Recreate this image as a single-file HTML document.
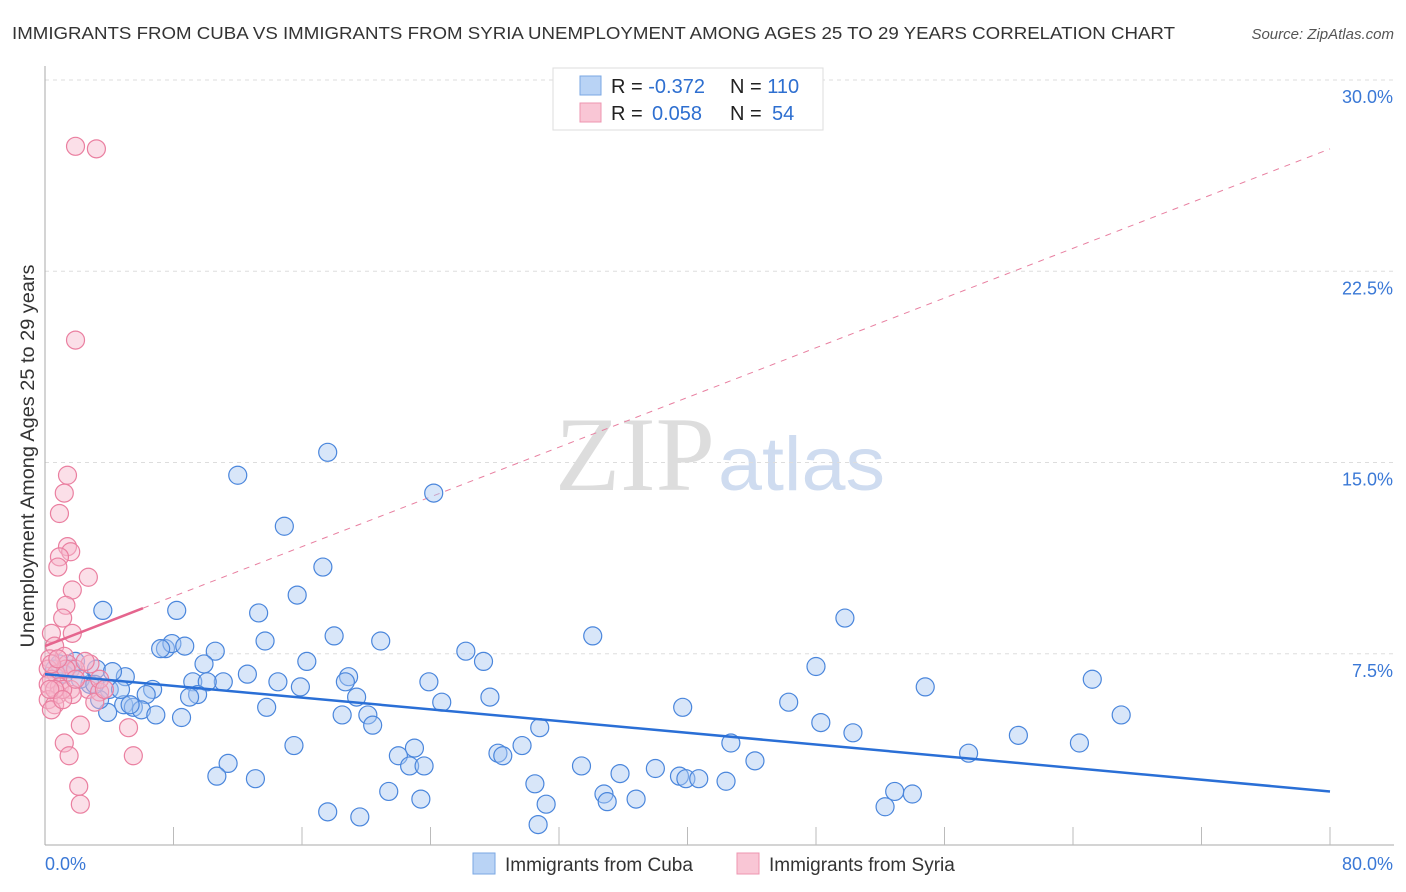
<!DOCTYPE html>
<html><head><meta charset="utf-8"><style>
body{margin:0;background:#fff;font-family:"Liberation Sans",sans-serif;}
svg{display:block}
</style></head><body>
<svg id="chart" width="1406" height="892">
<text x="12" y="39" font-size="17.5" fill="#333" textLength="1163" lengthAdjust="spacingAndGlyphs">IMMIGRANTS FROM CUBA VS IMMIGRANTS FROM SYRIA UNEMPLOYMENT AMONG AGES 25 TO 29 YEARS CORRELATION CHART</text>
<text x="1394" y="39" font-size="15" fill="#555" font-style="italic" text-anchor="end">Source: ZipAtlas.com</text>
<text transform="translate(34,456) rotate(-90)" font-size="19" fill="#333" text-anchor="middle" textLength="383" lengthAdjust="spacingAndGlyphs">Unemployment Among Ages 25 to 29 years</text>
<g><text x="555" y="490" font-size="106" font-family="Liberation Serif,serif" fill="#ddd" textLength="160" lengthAdjust="spacingAndGlyphs">ZIP</text><text x="718" y="490" font-size="76" fill="#cfdcf0" textLength="167" lengthAdjust="spacingAndGlyphs">atlas</text></g>
<g id="grid"></g><g id="axes"></g><g id="lines"></g><g id="pts"></g>
<g>
<rect x="553" y="68" width="270" height="62" fill="#fff" stroke="#ddd"/>
<rect x="580" y="76" width="21" height="19" fill="#b9d3f5" stroke="#7aa7e3"/>
<rect x="580" y="103" width="21" height="19" fill="#f9c6d5" stroke="#ee95b0"/>
<text x="611" y="93" font-size="20" fill="#222">R = <tspan fill="#2e6fd0">-0.372</tspan><tspan x="730">N = </tspan><tspan fill="#2e6fd0">110</tspan></text>
<text x="611" y="120" font-size="20" fill="#222">R = <tspan fill="#2e6fd0" x="652">0.058</tspan><tspan x="730">N = </tspan><tspan fill="#2e6fd0" x="772">54</tspan></text>
</g>
<g>
<rect x="473" y="853" width="22" height="21" fill="#b9d3f5" stroke="#7aa7e3"/>
<text x="505" y="871" font-size="19" fill="#333">Immigrants from Cuba</text>
<rect x="737" y="853" width="22" height="21" fill="#f9c6d5" stroke="#ee95b0"/>
<text x="769" y="871" font-size="19" fill="#333">Immigrants from Syria</text>
</g>
</svg>
<script>
const yTicks=[7.5,15,22.5,30];
const yTickLabels=["7.5%","15.0%","22.5%","30.0%"];
const xTickLabels=["0.0%","80.0%"];
const cubaX=[12.0,17.6,24.2,14.9,17.3,15.7,3.6,8.2,13.3,49.8,34.1,18.0,20.9,13.7,7.5,7.9,8.7,7.2,10.6,26.2,27.3,16.3,9.9,48.0,5.0,65.2,18.9,12.6,3.2,1.9,23.9,18.7,14.5,9.2,11.1,10.1,54.8,15.9,6.7,4.0,6.3,9.5,9.0,19.4,24.7,27.7,46.3,13.8,39.7,4.9,5.5,6.0,3.9,6.9,8.5,18.5,20.1,20.4,67.0,48.3,30.8,50.3,60.6,42.7,64.4,15.5,23.0,29.7,22.0,57.5,28.2,28.5,11.4,22.7,23.6,33.4,44.2,38.0,10.7,13.1,35.8,39.5,39.9,40.7,42.4,30.5,21.4,23.4,34.8,35.0,36.8,52.9,54.0,31.2,52.3,17.6,19.6,30.7,4.2,2.8,0.9,1.6,0.6,1.2,2.2,4.7,3.4,5.3,3.1];
const cubaY=[14.5,15.4,13.8,12.5,10.9,9.8,9.2,9.2,9.1,8.9,8.2,8.2,8.0,8.0,7.7,7.9,7.8,7.7,7.6,7.6,7.2,7.2,7.1,7.0,6.6,6.5,6.6,6.7,6.9,7.2,6.4,6.4,6.4,6.4,6.4,6.4,6.2,6.2,6.1,6.1,5.9,5.9,5.8,5.8,5.6,5.8,5.6,5.4,5.4,5.5,5.4,5.3,5.2,5.1,5.0,5.1,5.1,4.7,5.1,4.8,4.6,4.4,4.3,4.0,4.0,3.9,3.8,3.9,3.5,3.6,3.6,3.5,3.2,3.1,3.1,3.1,3.3,3.0,2.7,2.6,2.8,2.7,2.6,2.6,2.5,2.4,2.1,1.8,2.0,1.7,1.8,2.1,2.0,1.6,1.5,1.3,1.1,0.8,6.8,6.3,7.1,6.9,6.9,6.7,6.5,6.1,5.7,5.5,6.3];
const syriaX=[1.9,3.2,1.9,1.4,1.2,0.9,1.4,1.6,0.9,0.8,2.7,1.7,1.3,1.1,1.7,0.4,0.6,1.2,0.3,1.4,2.8,0.2,0.7,1.9,0.4,0.2,0.9,1.6,2.7,3.4,0.8,1.7,0.2,3.1,0.6,0.4,2.2,5.2,1.2,1.5,5.5,2.1,2.2,1.1,1.3,0.4,0.8,3.4,2.5,0.6,1.9,0.3,1.1,3.7];
const syriaY=[27.4,27.3,19.8,14.5,13.8,13.0,11.7,11.5,11.3,10.9,10.5,10.0,9.4,8.9,8.3,8.3,7.8,7.4,7.3,7.1,7.1,6.9,6.7,6.9,6.5,6.3,6.2,6.1,6.1,6.0,5.9,5.9,5.7,5.6,5.5,5.3,4.7,4.6,4.0,3.5,3.5,2.3,1.6,6.1,6.9,7.1,7.3,6.5,7.2,6.1,6.5,6.1,5.7,6.1];
const cubaTrend=[6.7,2.1];
const syriaTrend=[7.8,27.3];
const syriaSolidEnd=6.1;
const NS="http://www.w3.org/2000/svg";
const X0=45,X1=1330,Y0=845,YTOP=80;
const xs=v=>X0+(v/80)*(X1-X0);
const ys=v=>Y0-(v/30)*(Y0-YTOP);
function mk(tag,attrs,parent){const e=document.createElementNS(NS,tag);for(const k in attrs)e.setAttribute(k,attrs[k]);document.getElementById(parent).appendChild(e);return e;}
yTicks.forEach((t,i)=>{
 const g=mk('line',{x1:X0,x2:1394,y1:ys(t),y2:ys(t),stroke:'#ddd','stroke-dasharray':'4,4'},'grid');
 
 
 const l=mk('text',{x:1393,y:ys(t)+23,'font-size':18,fill:'#3a78d6','text-anchor':'end'},'grid');
 l.textContent=yTickLabels[i];
 
 
});
const ax=mk('line',{x1:X0,x2:X0,y1:66,y2:Y0,stroke:'#aaa'},'axes');


const bx=mk('line',{x1:X0,x2:1394,y1:Y0,y2:Y0,stroke:'#aaa'},'axes');


for(let i=1;i<=10;i++){const t=mk('line',{x1:xs(i*8),x2:xs(i*8),y1:Y0-18,y2:Y0,stroke:'#bbb'},'axes');
 
 }
[[0,'start',45],[80,'end',1393]].forEach((d,i)=>{const t=mk('text',{x:d[2],y:870,'font-size':18,fill:'#3a78d6','text-anchor':d[1]},'axes');t.textContent=xTickLabels[i];
 
 });
const sd=mk('line',{x1:xs(syriaSolidEnd),y1:ys(syriaTrend[0]+(syriaTrend[1]-syriaTrend[0])*syriaSolidEnd/80),x2:xs(80),y2:ys(syriaTrend[1]),stroke:'#e87fa0','stroke-dasharray':'6,6','stroke-width':1},'lines');


function dots(X,Y,fill,stroke,name){X.forEach((x,i)=>{const c=mk('circle',{cx:xs(x),cy:ys(Y[i]),r:9,fill:fill,'fill-opacity':0.45,stroke:stroke,'stroke-width':1.2},'pts');
 
 });}
dots(cubaX,cubaY,'#a9c8f2','#4a86dc','cuba-point');
dots(syriaX,syriaY,'#f7b8cb','#ea7fa0','syria-point');
const bl=mk('line',{x1:xs(0),y1:ys(cubaTrend[0]),x2:xs(80),y2:ys(cubaTrend[1]),stroke:'#2a6fd6','stroke-width':2.5},'pts');


const pl=mk('line',{x1:xs(0),y1:ys(syriaTrend[0]),x2:xs(syriaSolidEnd),y2:ys(syriaTrend[0]+(syriaTrend[1]-syriaTrend[0])*syriaSolidEnd/80),stroke:'#e5658e','stroke-width':2.5},'pts');


</script>
</body></html>
